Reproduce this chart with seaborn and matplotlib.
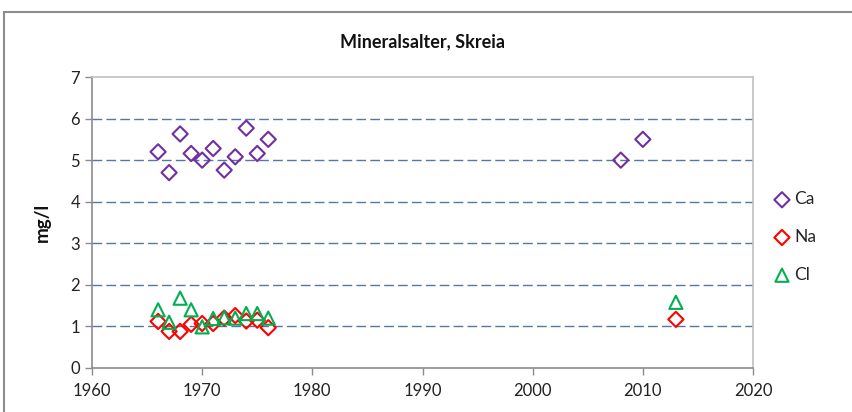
import matplotlib
matplotlib.use("Agg")
import matplotlib.pyplot as plt
import seaborn as sns
from matplotlib.patches import Rectangle

sns.set_theme(style="white")
plt.rcParams["font.family"] = ["Lato", "DejaVu Sans"]

# data (mg/l)
ca_years = [1966, 1967, 1968, 1969, 1970, 1971, 1972, 1973, 1974, 1975, 1976, 2008, 2010]
ca_vals = [5.20, 4.70, 5.63, 5.16, 5.00, 5.28, 4.76, 5.08, 5.77, 5.16, 5.50, 5.00, 5.50]

na_years = [1966, 1967, 1968, 1969, 1970, 1971, 1972, 1973, 1974, 1975, 1976, 2013]
na_vals = [1.12, 0.88, 0.88, 1.05, 1.07, 1.07, 1.20, 1.26, 1.13, 1.15, 0.97, 1.17]

cl_years = [1966, 1967, 1968, 1969, 1970, 1971, 1972, 1973, 1974, 1975, 1976, 2013]
cl_vals = [1.40, 1.10, 1.68, 1.40, 0.99, 1.19, 1.21, 1.20, 1.31, 1.31, 1.20, 1.58]

x_ticks = [1960, 1970, 1980, 1990, 2000, 2010, 2020]
y_ticks = [0, 1, 2, 3, 4, 5, 6, 7]

fig = plt.figure(figsize=(8.53, 4.12), dpi=100)
ax = fig.add_axes([92 / 853, 1 - 368 / 412, (753 - 92) / 853, (368 - 77) / 412])

# outer chart frame
fig.patches.append(Rectangle((4 / 853, -0.05), 1.2, 1.05 - 12 / 412,
                             transform=fig.transFigure, fill=False,
                             edgecolor="#8c8c8c", linewidth=1.5, zorder=0))

for yv in y_ticks[1:-1]:
    ax.axhline(yv, color="#5676a6", linewidth=1.0, linestyle=(0, (7, 3)), zorder=1)

series = [
    ("Ca", ca_years, ca_vals, "D", "#7030a0", 60),
    ("Na", na_years, na_vals, "D", "#ff0000", 60),
    ("Cl", cl_years, cl_vals, "^", "#00b050", 90),
]
for name, xs, ys, mk, col, size in series:
    sns.scatterplot(x=xs, y=ys, marker=mk, s=size, facecolor="none",
                    edgecolor=col, linewidth=1.5, label=name, ax=ax, zorder=3)

ax.set_xlim(1960, 2020)
ax.set_ylim(0, 7)
ax.set_xticks(x_ticks)
ax.set_yticks(y_ticks)
ax.tick_params(axis="both", which="major", labelsize=12, labelcolor="#222222",
               direction="out", length=5, width=1, color="#8c8c8c", left=True, bottom=True)
ax.tick_params(axis="x", pad=6)

for side in ["top", "right"]:
    ax.spines[side].set_color("#c0c0c0")
    ax.spines[side].set_linewidth(1.2)
for side in ["left", "bottom"]:
    ax.spines[side].set_color("#8c8c8c")
    ax.spines[side].set_linewidth(1.2)

ax.set_xlabel("")
ax.set_ylabel("mg/l", fontsize=13.5, fontweight="bold", color="#111111", labelpad=14)
fig.text((92 + 753) / 2 / 853, 1 - 42 / 412, "Mineralsalter, Skreia",
         ha="center", va="center", fontsize=13, fontweight="bold", color="#111111")

ax.legend(loc="center left", bbox_to_anchor=(1.032, 0.45), frameon=False,
          fontsize=12.5, labelspacing=1.25, handlelength=0.9, handletextpad=0.25,
          borderaxespad=0, borderpad=0)

fig.savefig("out.png", dpi=100)
